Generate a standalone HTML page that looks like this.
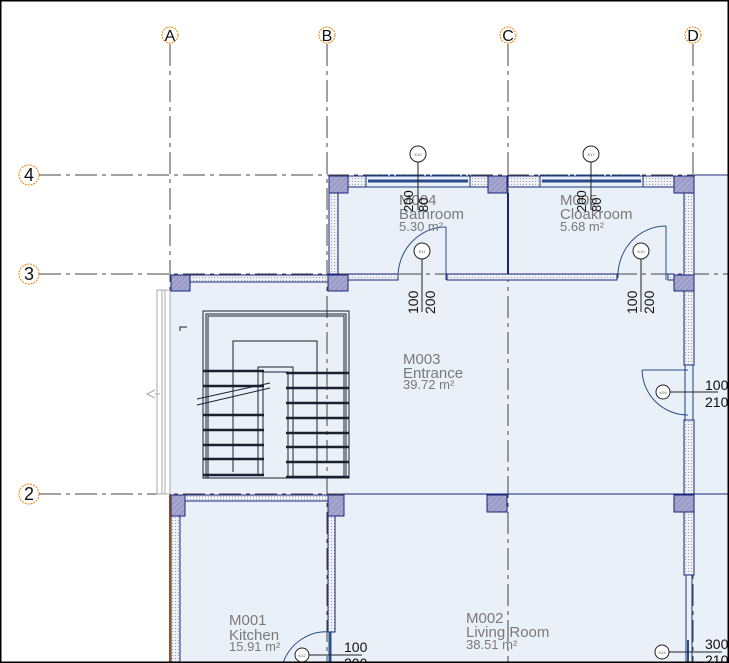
<!DOCTYPE html>
<html><head><meta charset="utf-8"><style>
html,body{margin:0;padding:0;background:#fff}
svg{display:block}
text{font-family:"Liberation Sans",sans-serif}
</style></head><body>
<svg width="729" height="663" viewBox="0 0 729 663" xmlns="http://www.w3.org/2000/svg">
<defs>
<pattern id="dot" width="3" height="3" patternUnits="userSpaceOnUse">
<rect width="3" height="3" fill="#eef0f4"/><rect x="1" y="1" width="1" height="1" fill="#9aa0b8"/>
</pattern>
<pattern id="col" width="4" height="4" patternUnits="userSpaceOnUse" patternTransform="rotate(45)">
<rect width="4" height="4" fill="#9c9cc8"/><rect width="1" height="4" fill="#b0b0d4"/>
</pattern>
</defs>
<rect width="729" height="663" fill="#fff"/>
<polygon points="329,176 729,176 729,663 170,663 170,274 329,274" fill="#e9f0f7"/>

<g stroke="#444" stroke-width="1" stroke-dasharray="22,5,4,5" fill="none">
<line x1="170" y1="44" x2="170" y2="663"/>
<line x1="327" y1="44" x2="327" y2="663"/>
<line x1="508" y1="44" x2="508" y2="663"/>
<line x1="693" y1="44" x2="693" y2="663"/>
<line x1="39" y1="175" x2="729" y2="175"/>
<line x1="39" y1="274" x2="729" y2="274"/>
<line x1="39" y1="494" x2="729" y2="494"/>
</g>
<g fill="#fff" stroke="#f08000" stroke-width="1" stroke-dasharray="2,1">
<circle cx="170" cy="35" r="8"/><circle cx="327" cy="35" r="8"/><circle cx="508" cy="35" r="8"/><circle cx="693" cy="35" r="8"/>
<circle cx="29" cy="175" r="10"/><circle cx="29" cy="274" r="10"/><circle cx="29" cy="494" r="10"/>
</g>
<g font-size="16" fill="#111" text-anchor="middle">
<text x="170" y="41">A</text><text x="327" y="41">B</text><text x="508" y="41">C</text><text x="693" y="41">D</text>
<text x="29" y="181" font-size="18">4</text><text x="29" y="280" font-size="18">3</text><text x="29" y="500" font-size="18">2</text>
</g>

<g fill="url(#dot)" stroke="#1a237e" stroke-width="1">
<rect x="348" y="176" width="18" height="11"/><rect x="470" y="176" width="18" height="11"/>
<rect x="508" y="176" width="32" height="11"/><rect x="643" y="176" width="31" height="11"/>
<rect x="329" y="193" width="9" height="81"/>
<rect x="684" y="193" width="10" height="172"/>
<rect x="684" y="420" width="10" height="155"/>
<rect x="348" y="274" width="50" height="6"/><rect x="447" y="274" width="170" height="6"/><rect x="668" y="274" width="6" height="6"/>
<rect x="190" y="275" width="138" height="7"/>
<rect x="185" y="495" width="143" height="6"/>
<rect x="171" y="516" width="9" height="147"/>
<rect x="328" y="516" width="7" height="116"/>
</g>
<line x1="170" y1="494" x2="170" y2="663" stroke="#a05010" stroke-width="2"/>
<line x1="508" y1="193" x2="508" y2="274" stroke="#1a237e" stroke-width="2"/>
<line x1="344" y1="494" x2="729" y2="494" stroke="#1a237e" stroke-width="1"/>
<line x1="694" y1="175" x2="729" y2="175" stroke="#1a237e"/>
<g stroke="#1a3a7e" fill="none">
<rect x="366" y="176" width="104" height="11"/><line x1="368" y1="181" x2="468" y2="181" stroke-width="3" stroke="#2a4a8a"/>
<rect x="540" y="176" width="103" height="11"/><line x1="542" y1="181" x2="641" y2="181" stroke-width="3" stroke="#2a4a8a"/>
<line x1="366" y1="175" x2="470" y2="175" stroke-dasharray="4,2"/><line x1="540" y1="175" x2="643" y2="175" stroke-dasharray="4,2"/>
<rect x="686" y="575" width="6" height="88"/>
<rect x="685" y="365" width="8" height="55"/>
</g>
<g stroke="#aaa" fill="none">
<rect x="157" y="290" width="13" height="204"/><line x1="162" y1="290" x2="162" y2="494"/><line x1="165" y1="290" x2="165" y2="494"/>
<polyline points="155,390 147,394 155,398"/><line x1="155" y1="394" x2="160" y2="394"/>
</g>
<g fill="url(#col)" stroke="#1a237e" stroke-width="1">
<rect x="329" y="176" width="19" height="17"/><rect x="488" y="176" width="19" height="17"/><rect x="674" y="176" width="20" height="17"/>
<rect x="171" y="275" width="19" height="16"/><rect x="328" y="275" width="20" height="16"/><rect x="674" y="275" width="20" height="16"/>
<rect x="171" y="495" width="14" height="21"/><rect x="328" y="495" width="16" height="21"/><rect x="487" y="495" width="20" height="17"/><rect x="674" y="495" width="20" height="17"/>
</g>

<g stroke="#2a4f8a" fill="none" stroke-width="1">
<line x1="446" y1="280" x2="446" y2="227"/><path d="M446,227 A48,50 0 0 0 398,278"/>
<line x1="666" y1="280" x2="666" y2="226"/><path d="M666,226 A48,50 0 0 0 618,278"/>
<line x1="642" y1="370" x2="688" y2="370"/><path d="M642,370 A46,46 0 0 0 688,415"/>
<path d="M330,632 A46,48 0 0 0 283,663"/>
<line x1="330" y1="632" x2="330" y2="663" stroke-width="3"/>
<line x1="688" y1="640" x2="688" y2="663" stroke-width="2"/>
</g>

<g stroke="#1a2030" fill="none" stroke-width="1">
<rect x="203" y="311" width="146" height="167"/>
<polyline points="206,478 206,314 346,314 346,478"/>
<polyline points="208,478 208,316 344,316 344,478"/>
<polyline points="233,472 233,341 317,341 317,477"/>
<polyline points="258,475 258,367 293,367 293,477"/>
<polyline points="263,475 263,372 288,372 288,477"/>
<polyline points="180,331 180,327 187,327"/>
<line x1="197" y1="405" x2="270" y2="388"/><line x1="197" y1="399" x2="270" y2="383"/>
</g>
<g stroke="#1a2030" stroke-width="2.5">
<line x1="203" y1="371" x2="264" y2="371"/><line x1="203" y1="386" x2="264" y2="386"/>
<line x1="203" y1="415" x2="264" y2="415"/><line x1="203" y1="430" x2="264" y2="430"/><line x1="203" y1="445" x2="264" y2="445"/><line x1="203" y1="459" x2="264" y2="459"/><line x1="203" y1="475" x2="264" y2="475"/>
<line x1="286" y1="373" x2="349" y2="373"/><line x1="286" y1="388" x2="349" y2="388"/><line x1="286" y1="403" x2="349" y2="403"/><line x1="286" y1="418" x2="349" y2="418"/><line x1="286" y1="433" x2="349" y2="433"/><line x1="286" y1="447" x2="349" y2="447"/><line x1="286" y1="462" x2="349" y2="462"/><line x1="286" y1="477" x2="349" y2="477"/>
</g>

<g fill="#7a7a7a" font-size="15">
<text x="399" y="205">M004</text><text x="399" y="219">Bathroom</text><text x="399" y="231" font-size="13">5.30 m²</text>
<text x="560" y="205">M005</text><text x="560" y="219">Cloakroom</text><text x="560" y="231" font-size="13">5.68 m²</text>
<text x="403" y="364">M003</text><text x="403" y="378">Entrance</text><text x="403" y="389" font-size="13">39.72 m²</text>
<text x="229" y="625">M001</text><text x="229" y="640">Kitchen</text><text x="229" y="651" font-size="13">15.91 m²</text>
<text x="466" y="623">M002</text><text x="466" y="637">Living Room</text><text x="466" y="649" font-size="13">38.51 m²</text>
</g>

<g stroke="#222" fill="#fff" stroke-width="1">
<line x1="418" y1="154" x2="418" y2="210"/><line x1="591" y1="154" x2="591" y2="210"/>
<line x1="422" y1="252" x2="422" y2="312"/><line x1="641" y1="252" x2="641" y2="312"/>
<line x1="663" y1="392" x2="718" y2="392"/><line x1="302" y1="655" x2="362" y2="655"/><line x1="662" y1="652" x2="722" y2="652"/>
<circle cx="418" cy="154" r="8"/><circle cx="591" cy="154" r="8"/>
<circle cx="422" cy="251" r="8"/><circle cx="641" cy="251" r="8"/>
<circle cx="663" cy="392" r="7"/><circle cx="302" cy="655" r="7"/><circle cx="662" cy="652" r="7"/>
</g>
<g font-size="4" fill="#555" text-anchor="middle">
<text x="418" y="156">K10</text><text x="591" y="156">K17</text><text x="422" y="253">K11</text><text x="641" y="253">K10</text><text x="663" y="394">K09</text><text x="302" y="657">K12</text><text x="662" y="654">K13</text>
</g>
<g font-size="14" fill="#111">
<text transform="translate(418,314) rotate(-90)">100</text><text transform="translate(435,314) rotate(-90)">200</text>
<text transform="translate(637,314) rotate(-90)">100</text><text transform="translate(654,314) rotate(-90)">200</text>
<text transform="translate(413,212) rotate(-90)" font-size="13">200</text><text transform="translate(428,212) rotate(-90)" font-size="13">80</text>
<text transform="translate(586,212) rotate(-90)" font-size="13">200</text><text transform="translate(601,212) rotate(-90)" font-size="13">80</text>
<text x="705" y="390">100</text><text x="705" y="407">210</text>
<text x="344" y="652">100</text><text x="344" y="668">200</text>
<text x="705" y="649">300</text><text x="705" y="665">210</text>
</g>
<rect x="0.5" y="0.5" width="728" height="662" fill="none" stroke="#000" stroke-width="2"/>
</svg>
</body></html>
